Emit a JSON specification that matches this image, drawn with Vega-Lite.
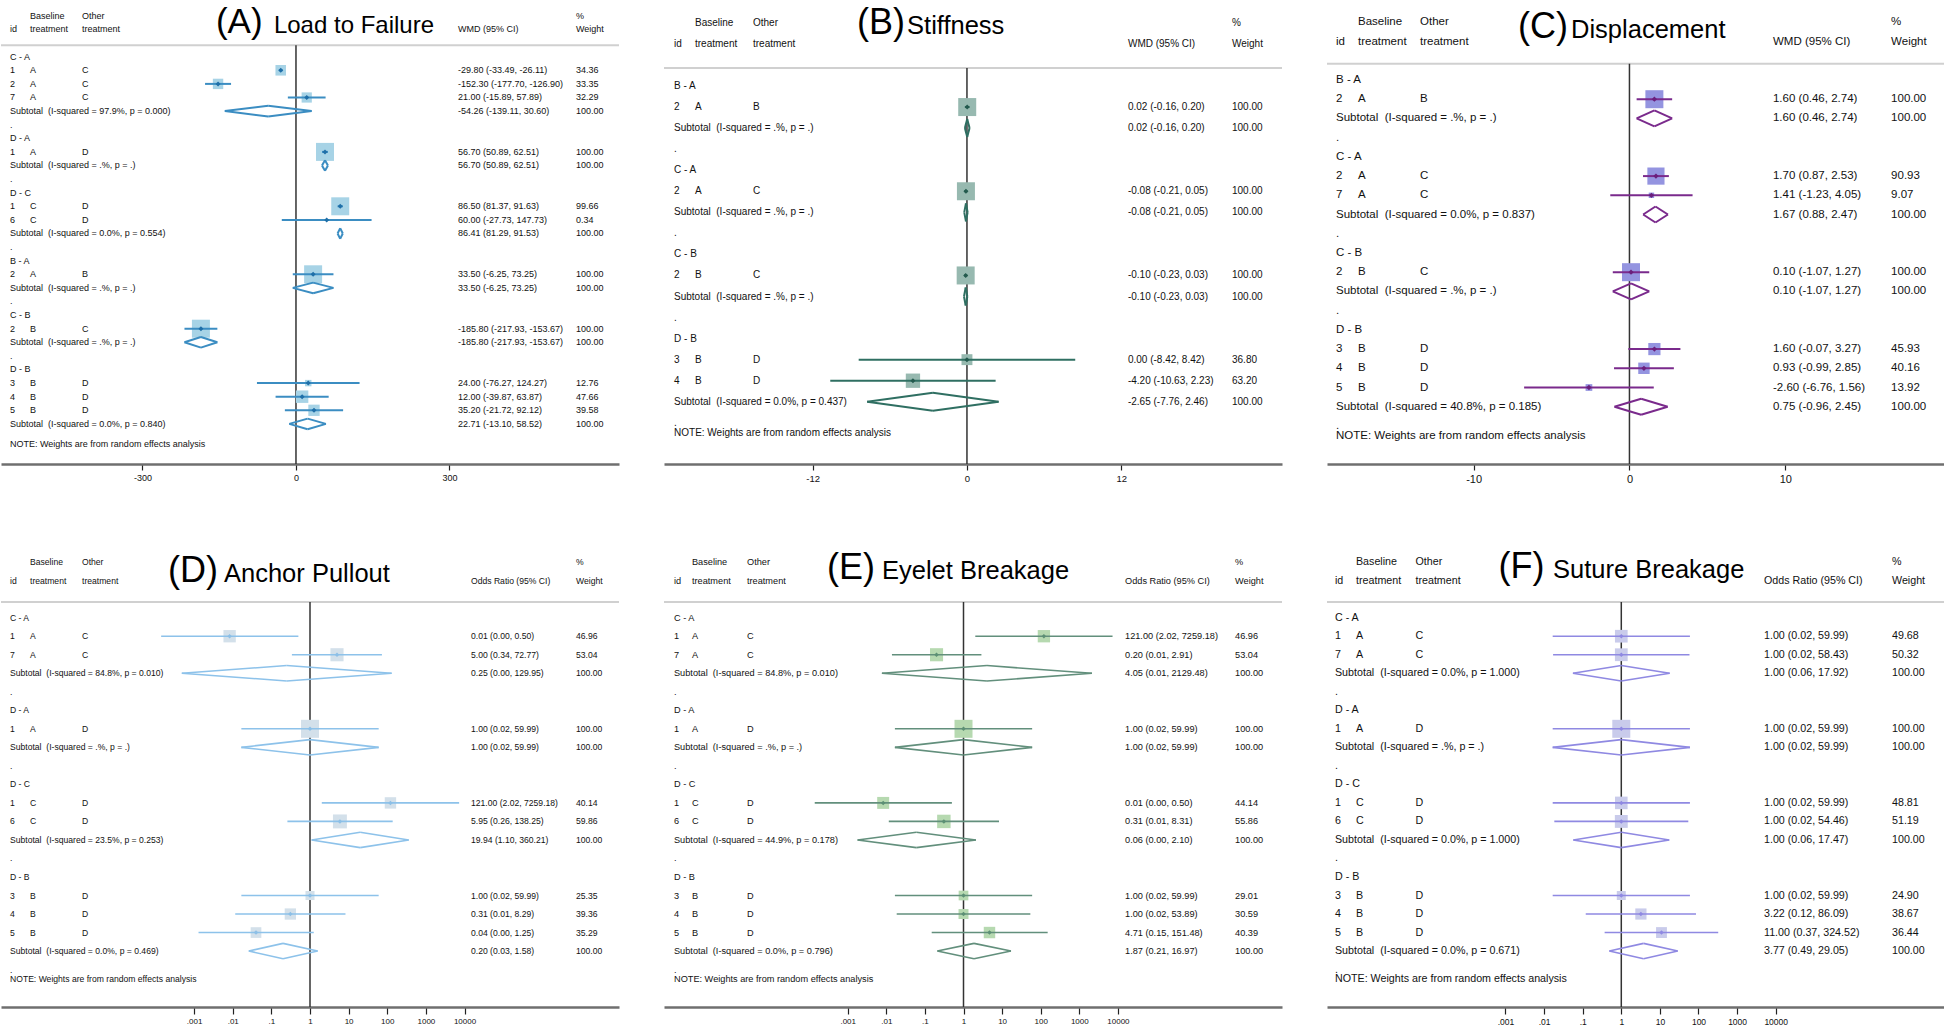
{
"$schema": "https://vega.github.io/schema/vega-lite/v6.json",
"padding": 0,
"background": "white",
"columns": 3,
"align": "each",
"bounds": "flush",
"spacing": {"row": 66, "column": 45},
"config": {"view": {"stroke": null}, "font": "Liberation Sans", "axisX": {"grid": false, "domainColor": "#6f6f6f", "domainWidth": 2.5, "tickColor": "#222222", "tickWidth": 1.2, "labelColor": "#111111", "labelPadding": 3, "labelFlush": false, "labelOverlap": false}},
"datasets": {
"A": [
{"r":-3,"base":"Baseline","other":"Other","wt":"%"},
{"r":-2,"id":"id","base":"treatment","other":"treatment","ci":"WMD (95% CI)","wt":"Weight"},
{"r":0,"t":"g","label":"C - A"},
{"r":1,"t":"s","id":"1","base":"A","other":"C","est":-29.8,"lo":-33.49,"hi":-26.11,"w":34.36,"ci":"-29.80 (-33.49, -26.11)","wt":"34.36"},
{"r":2,"t":"s","id":"2","base":"A","other":"C","est":-152.3,"lo":-177.7,"hi":-126.9,"w":33.35,"ci":"-152.30 (-177.70, -126.90)","wt":"33.35"},
{"r":3,"t":"s","id":"7","base":"A","other":"C","est":21,"lo":-15.89,"hi":57.89,"w":32.29,"ci":"21.00 (-15.89, 57.89)","wt":"32.29"},
{"r":4,"t":"sub","label":"Subtotal\u00a0 (I-squared = 97.9%, p = 0.000)","est":-54.26,"lo":-139.11,"hi":30.6,"ci":"-54.26 (-139.11, 30.60)","wt":"100.00"},
{"r":5,"t":"dot","label":"."},
{"r":6,"t":"g","label":"D - A"},
{"r":7,"t":"s","id":"1","base":"A","other":"D","est":56.7,"lo":50.89,"hi":62.51,"w":100,"ci":"56.70 (50.89, 62.51)","wt":"100.00"},
{"r":8,"t":"sub","label":"Subtotal\u00a0 (I-squared = .%, p = .)","est":56.7,"lo":50.89,"hi":62.51,"ci":"56.70 (50.89, 62.51)","wt":"100.00"},
{"r":9,"t":"dot","label":"."},
{"r":10,"t":"g","label":"D - C"},
{"r":11,"t":"s","id":"1","base":"C","other":"D","est":86.5,"lo":81.37,"hi":91.63,"w":99.66,"ci":"86.50 (81.37, 91.63)","wt":"99.66"},
{"r":12,"t":"s","id":"6","base":"C","other":"D","est":60,"lo":-27.73,"hi":147.73,"w":0.34,"ci":"60.00 (-27.73, 147.73)","wt":"0.34"},
{"r":13,"t":"sub","label":"Subtotal\u00a0 (I-squared = 0.0%, p = 0.554)","est":86.41,"lo":81.29,"hi":91.53,"ci":"86.41 (81.29, 91.53)","wt":"100.00"},
{"r":14,"t":"dot","label":"."},
{"r":15,"t":"g","label":"B - A"},
{"r":16,"t":"s","id":"2","base":"A","other":"B","est":33.5,"lo":-6.25,"hi":73.25,"w":100,"ci":"33.50 (-6.25, 73.25)","wt":"100.00"},
{"r":17,"t":"sub","label":"Subtotal\u00a0 (I-squared = .%, p = .)","est":33.5,"lo":-6.25,"hi":73.25,"ci":"33.50 (-6.25, 73.25)","wt":"100.00"},
{"r":18,"t":"dot","label":"."},
{"r":19,"t":"g","label":"C - B"},
{"r":20,"t":"s","id":"2","base":"B","other":"C","est":-185.8,"lo":-217.93,"hi":-153.67,"w":100,"ci":"-185.80 (-217.93, -153.67)","wt":"100.00"},
{"r":21,"t":"sub","label":"Subtotal\u00a0 (I-squared = .%, p = .)","est":-185.8,"lo":-217.93,"hi":-153.67,"ci":"-185.80 (-217.93, -153.67)","wt":"100.00"},
{"r":22,"t":"dot","label":"."},
{"r":23,"t":"g","label":"D - B"},
{"r":24,"t":"s","id":"3","base":"B","other":"D","est":24,"lo":-76.27,"hi":124.27,"w":12.76,"ci":"24.00 (-76.27, 124.27)","wt":"12.76"},
{"r":25,"t":"s","id":"4","base":"B","other":"D","est":12,"lo":-39.87,"hi":63.87,"w":47.66,"ci":"12.00 (-39.87, 63.87)","wt":"47.66"},
{"r":26,"t":"s","id":"5","base":"B","other":"D","est":35.2,"lo":-21.72,"hi":92.12,"w":39.58,"ci":"35.20 (-21.72, 92.12)","wt":"39.58"},
{"r":27,"t":"sub","label":"Subtotal\u00a0 (I-squared = 0.0%, p = 0.840)","est":22.71,"lo":-13.1,"hi":58.52,"ci":"22.71 (-13.10, 58.52)","wt":"100.00"}
],
"B": [
{"r":-3,"base":"Baseline","other":"Other","wt":"%"},
{"r":-2,"id":"id","base":"treatment","other":"treatment","ci":"WMD (95% CI)","wt":"Weight"},
{"r":0,"t":"g","label":"B - A"},
{"r":1,"t":"s","id":"2","base":"A","other":"B","est":0.02,"lo":-0.16,"hi":0.2,"w":100,"ci":"0.02 (-0.16, 0.20)","wt":"100.00"},
{"r":2,"t":"sub","label":"Subtotal\u00a0 (I-squared = .%, p = .)","est":0.02,"lo":-0.16,"hi":0.2,"ci":"0.02 (-0.16, 0.20)","wt":"100.00"},
{"r":3,"t":"dot","label":"."},
{"r":4,"t":"g","label":"C - A"},
{"r":5,"t":"s","id":"2","base":"A","other":"C","est":-0.08,"lo":-0.21,"hi":0.05,"w":100,"ci":"-0.08 (-0.21, 0.05)","wt":"100.00"},
{"r":6,"t":"sub","label":"Subtotal\u00a0 (I-squared = .%, p = .)","est":-0.08,"lo":-0.21,"hi":0.05,"ci":"-0.08 (-0.21, 0.05)","wt":"100.00"},
{"r":7,"t":"dot","label":"."},
{"r":8,"t":"g","label":"C - B"},
{"r":9,"t":"s","id":"2","base":"B","other":"C","est":-0.1,"lo":-0.23,"hi":0.03,"w":100,"ci":"-0.10 (-0.23, 0.03)","wt":"100.00"},
{"r":10,"t":"sub","label":"Subtotal\u00a0 (I-squared = .%, p = .)","est":-0.1,"lo":-0.23,"hi":0.03,"ci":"-0.10 (-0.23, 0.03)","wt":"100.00"},
{"r":11,"t":"dot","label":"."},
{"r":12,"t":"g","label":"D - B"},
{"r":13,"t":"s","id":"3","base":"B","other":"D","est":0,"lo":-8.42,"hi":8.42,"w":36.8,"ci":"0.00 (-8.42, 8.42)","wt":"36.80"},
{"r":14,"t":"s","id":"4","base":"B","other":"D","est":-4.2,"lo":-10.63,"hi":2.23,"w":63.2,"ci":"-4.20 (-10.63, 2.23)","wt":"63.20"},
{"r":15,"t":"sub","label":"Subtotal\u00a0 (I-squared = 0.0%, p = 0.437)","est":-2.65,"lo":-7.76,"hi":2.46,"ci":"-2.65 (-7.76, 2.46)","wt":"100.00"},
{"r":16,"t":"dot","label":"."}
],
"C": [
{"r":-3,"base":"Baseline","other":"Other","wt":"%"},
{"r":-2,"id":"id","base":"treatment","other":"treatment","ci":"WMD (95% CI)","wt":"Weight"},
{"r":0,"t":"g","label":"B - A"},
{"r":1,"t":"s","id":"2","base":"A","other":"B","est":1.6,"lo":0.46,"hi":2.74,"w":100,"ci":"1.60 (0.46, 2.74)","wt":"100.00"},
{"r":2,"t":"sub","label":"Subtotal\u00a0 (I-squared = .%, p = .)","est":1.6,"lo":0.46,"hi":2.74,"ci":"1.60 (0.46, 2.74)","wt":"100.00"},
{"r":3,"t":"dot","label":"."},
{"r":4,"t":"g","label":"C - A"},
{"r":5,"t":"s","id":"2","base":"A","other":"C","est":1.7,"lo":0.87,"hi":2.53,"w":90.93,"ci":"1.70 (0.87, 2.53)","wt":"90.93"},
{"r":6,"t":"s","id":"7","base":"A","other":"C","est":1.41,"lo":-1.23,"hi":4.05,"w":9.07,"ci":"1.41 (-1.23, 4.05)","wt":"9.07"},
{"r":7,"t":"sub","label":"Subtotal\u00a0 (I-squared = 0.0%, p = 0.837)","est":1.67,"lo":0.88,"hi":2.47,"ci":"1.67 (0.88, 2.47)","wt":"100.00"},
{"r":8,"t":"dot","label":"."},
{"r":9,"t":"g","label":"C - B"},
{"r":10,"t":"s","id":"2","base":"B","other":"C","est":0.1,"lo":-1.07,"hi":1.27,"w":100,"ci":"0.10 (-1.07, 1.27)","wt":"100.00"},
{"r":11,"t":"sub","label":"Subtotal\u00a0 (I-squared = .%, p = .)","est":0.1,"lo":-1.07,"hi":1.27,"ci":"0.10 (-1.07, 1.27)","wt":"100.00"},
{"r":12,"t":"dot","label":"."},
{"r":13,"t":"g","label":"D - B"},
{"r":14,"t":"s","id":"3","base":"B","other":"D","est":1.6,"lo":-0.07,"hi":3.27,"w":45.93,"ci":"1.60 (-0.07, 3.27)","wt":"45.93"},
{"r":15,"t":"s","id":"4","base":"B","other":"D","est":0.93,"lo":-0.99,"hi":2.85,"w":40.16,"ci":"0.93 (-0.99, 2.85)","wt":"40.16"},
{"r":16,"t":"s","id":"5","base":"B","other":"D","est":-2.6,"lo":-6.76,"hi":1.56,"w":13.92,"ci":"-2.60 (-6.76, 1.56)","wt":"13.92"},
{"r":17,"t":"sub","label":"Subtotal\u00a0 (I-squared = 40.8%, p = 0.185)","est":0.75,"lo":-0.96,"hi":2.45,"ci":"0.75 (-0.96, 2.45)","wt":"100.00"},
{"r":18,"t":"dot","label":"."}
],
"D": [
{"r":-3,"base":"Baseline","other":"Other","wt":"%"},
{"r":-2,"id":"id","base":"treatment","other":"treatment","ci":"Odds Ratio (95% CI)","wt":"Weight"},
{"r":0,"t":"g","label":"C - A"},
{"r":1,"t":"s","id":"1","base":"A","other":"C","est":0.0083,"lo":0.00014,"hi":0.5,"w":46.96,"ci":"0.01 (0.00, 0.50)","wt":"46.96"},
{"r":2,"t":"s","id":"7","base":"A","other":"C","est":5,"lo":0.34,"hi":72.77,"w":53.04,"ci":"5.00 (0.34, 72.77)","wt":"53.04"},
{"r":3,"t":"sub","label":"Subtotal\u00a0 (I-squared = 84.8%, p = 0.010)","est":0.25,"lo":0.00048,"hi":129.95,"ci":"0.25 (0.00, 129.95)","wt":"100.00"},
{"r":4,"t":"dot","label":"."},
{"r":5,"t":"g","label":"D - A"},
{"r":6,"t":"s","id":"1","base":"A","other":"D","est":1,"lo":0.0167,"hi":59.99,"w":100,"ci":"1.00 (0.02, 59.99)","wt":"100.00"},
{"r":7,"t":"sub","label":"Subtotal\u00a0 (I-squared = .%, p = .)","est":1,"lo":0.0167,"hi":59.99,"ci":"1.00 (0.02, 59.99)","wt":"100.00"},
{"r":8,"t":"dot","label":"."},
{"r":9,"t":"g","label":"D - C"},
{"r":10,"t":"s","id":"1","base":"C","other":"D","est":121,"lo":2.02,"hi":7259.18,"w":40.14,"ci":"121.00 (2.02, 7259.18)","wt":"40.14"},
{"r":11,"t":"s","id":"6","base":"C","other":"D","est":5.95,"lo":0.26,"hi":138.25,"w":59.86,"ci":"5.95 (0.26, 138.25)","wt":"59.86"},
{"r":12,"t":"sub","label":"Subtotal\u00a0 (I-squared = 23.5%, p = 0.253)","est":19.94,"lo":1.1,"hi":360.21,"ci":"19.94 (1.10, 360.21)","wt":"100.00"},
{"r":13,"t":"dot","label":"."},
{"r":14,"t":"g","label":"D - B"},
{"r":15,"t":"s","id":"3","base":"B","other":"D","est":1,"lo":0.0167,"hi":59.99,"w":25.35,"ci":"1.00 (0.02, 59.99)","wt":"25.35"},
{"r":16,"t":"s","id":"4","base":"B","other":"D","est":0.31,"lo":0.0116,"hi":8.29,"w":39.36,"ci":"0.31 (0.01, 8.29)","wt":"39.36"},
{"r":17,"t":"s","id":"5","base":"B","other":"D","est":0.04,"lo":0.0013,"hi":1.25,"w":35.29,"ci":"0.04 (0.00, 1.25)","wt":"35.29"},
{"r":18,"t":"sub","label":"Subtotal\u00a0 (I-squared = 0.0%, p = 0.469)","est":0.2,"lo":0.026,"hi":1.58,"ci":"0.20 (0.03, 1.58)","wt":"100.00"},
{"r":19,"t":"dot","label":"."}
],
"E": [
{"r":-3,"base":"Baseline","other":"Other","wt":"%"},
{"r":-2,"id":"id","base":"treatment","other":"treatment","ci":"Odds Ratio (95% CI)","wt":"Weight"},
{"r":0,"t":"g","label":"C - A"},
{"r":1,"t":"s","id":"1","base":"A","other":"C","est":121,"lo":2.02,"hi":7259.18,"w":46.96,"ci":"121.00 (2.02, 7259.18)","wt":"46.96"},
{"r":2,"t":"s","id":"7","base":"A","other":"C","est":0.2,"lo":0.014,"hi":2.91,"w":53.04,"ci":"0.20 (0.01, 2.91)","wt":"53.04"},
{"r":3,"t":"sub","label":"Subtotal\u00a0 (I-squared = 84.8%, p = 0.010)","est":4.05,"lo":0.0077,"hi":2129.48,"ci":"4.05 (0.01, 2129.48)","wt":"100.00"},
{"r":4,"t":"dot","label":"."},
{"r":5,"t":"g","label":"D - A"},
{"r":6,"t":"s","id":"1","base":"A","other":"D","est":1,"lo":0.0167,"hi":59.99,"w":100,"ci":"1.00 (0.02, 59.99)","wt":"100.00"},
{"r":7,"t":"sub","label":"Subtotal\u00a0 (I-squared = .%, p = .)","est":1,"lo":0.0167,"hi":59.99,"ci":"1.00 (0.02, 59.99)","wt":"100.00"},
{"r":8,"t":"dot","label":"."},
{"r":9,"t":"g","label":"D - C"},
{"r":10,"t":"s","id":"1","base":"C","other":"D","est":0.0083,"lo":0.00014,"hi":0.5,"w":44.14,"ci":"0.01 (0.00, 0.50)","wt":"44.14"},
{"r":11,"t":"s","id":"6","base":"C","other":"D","est":0.31,"lo":0.0116,"hi":8.31,"w":55.86,"ci":"0.31 (0.01, 8.31)","wt":"55.86"},
{"r":12,"t":"sub","label":"Subtotal\u00a0 (I-squared = 44.9%, p = 0.178)","est":0.06,"lo":0.0018,"hi":2.1,"ci":"0.06 (0.00, 2.10)","wt":"100.00"},
{"r":13,"t":"dot","label":"."},
{"r":14,"t":"g","label":"D - B"},
{"r":15,"t":"s","id":"3","base":"B","other":"D","est":1,"lo":0.0167,"hi":59.99,"w":29.01,"ci":"1.00 (0.02, 59.99)","wt":"29.01"},
{"r":16,"t":"s","id":"4","base":"B","other":"D","est":1,"lo":0.0186,"hi":53.89,"w":30.59,"ci":"1.00 (0.02, 53.89)","wt":"30.59"},
{"r":17,"t":"s","id":"5","base":"B","other":"D","est":4.71,"lo":0.15,"hi":151.48,"w":40.39,"ci":"4.71 (0.15, 151.48)","wt":"40.39"},
{"r":18,"t":"sub","label":"Subtotal\u00a0 (I-squared = 0.0%, p = 0.796)","est":1.87,"lo":0.21,"hi":16.97,"ci":"1.87 (0.21, 16.97)","wt":"100.00"},
{"r":19,"t":"dot","label":"."}
],
"F": [
{"r":-3,"base":"Baseline","other":"Other","wt":"%"},
{"r":-2,"id":"id","base":"treatment","other":"treatment","ci":"Odds Ratio (95% CI)","wt":"Weight"},
{"r":0,"t":"g","label":"C - A"},
{"r":1,"t":"s","id":"1","base":"A","other":"C","est":1,"lo":0.0167,"hi":59.99,"w":49.68,"ci":"1.00 (0.02, 59.99)","wt":"49.68"},
{"r":2,"t":"s","id":"7","base":"A","other":"C","est":1,"lo":0.0171,"hi":58.43,"w":50.32,"ci":"1.00 (0.02, 58.43)","wt":"50.32"},
{"r":3,"t":"sub","label":"Subtotal\u00a0 (I-squared = 0.0%, p = 1.000)","est":1,"lo":0.0558,"hi":17.92,"ci":"1.00 (0.06, 17.92)","wt":"100.00"},
{"r":4,"t":"dot","label":"."},
{"r":5,"t":"g","label":"D - A"},
{"r":6,"t":"s","id":"1","base":"A","other":"D","est":1,"lo":0.0167,"hi":59.99,"w":100,"ci":"1.00 (0.02, 59.99)","wt":"100.00"},
{"r":7,"t":"sub","label":"Subtotal\u00a0 (I-squared = .%, p = .)","est":1,"lo":0.0167,"hi":59.99,"ci":"1.00 (0.02, 59.99)","wt":"100.00"},
{"r":8,"t":"dot","label":"."},
{"r":9,"t":"g","label":"D - C"},
{"r":10,"t":"s","id":"1","base":"C","other":"D","est":1,"lo":0.0167,"hi":59.99,"w":48.81,"ci":"1.00 (0.02, 59.99)","wt":"48.81"},
{"r":11,"t":"s","id":"6","base":"C","other":"D","est":1,"lo":0.0184,"hi":54.46,"w":51.19,"ci":"1.00 (0.02, 54.46)","wt":"51.19"},
{"r":12,"t":"sub","label":"Subtotal\u00a0 (I-squared = 0.0%, p = 1.000)","est":1,"lo":0.0572,"hi":17.47,"ci":"1.00 (0.06, 17.47)","wt":"100.00"},
{"r":13,"t":"dot","label":"."},
{"r":14,"t":"g","label":"D - B"},
{"r":15,"t":"s","id":"3","base":"B","other":"D","est":1,"lo":0.0167,"hi":59.99,"w":24.9,"ci":"1.00 (0.02, 59.99)","wt":"24.90"},
{"r":16,"t":"s","id":"4","base":"B","other":"D","est":3.22,"lo":0.12,"hi":86.09,"w":38.67,"ci":"3.22 (0.12, 86.09)","wt":"38.67"},
{"r":17,"t":"s","id":"5","base":"B","other":"D","est":11,"lo":0.37,"hi":324.52,"w":36.44,"ci":"11.00 (0.37, 324.52)","wt":"36.44"},
{"r":18,"t":"sub","label":"Subtotal\u00a0 (I-squared = 0.0%, p = 0.671)","est":3.77,"lo":0.49,"hi":29.05,"ci":"3.77 (0.49, 29.05)","wt":"100.00"},
{"r":19,"t":"dot","label":"."}
]
},
"concat": [
{"width":618,"height":464,"layer":[
{"data":{"values":[{"k":1}]},"mark":{"type":"rule","color":"#d0d0d0","strokeWidth":2},"encoding":{"y":{"datum":-0.85,"type":"quantitative","scale":{"domain":[-4.169,29.949],"reverse":true,"nice":false,"zero":false},"axis":null}}},
{"data":{"values":[{"k":1}]},"mark":{"type":"rule","color":"#333333","strokeWidth":1.5},"encoding":{"x":{"datum":0,"type":"quantitative","title":null,"scale":{"domain":[-576.5,631.3],"nice":false,"zero":false},"axis":{"values":[-300,0,300],"labelExpr":"'' + datum.value","labelFontSize":9,"tickSize":6}},"y":{"datum":-0.85},"y2":{"datum":29.949}}},
{"data":{"name":"A"},"transform":[{"filter":"datum.t == 's'"}],"mark":{"type":"square","filled":true,"color":"#a7d3e6","opacity":1},"encoding":{"y":{"field":"r","type":"quantitative"},"x":{"field":"est","type":"quantitative","title":null},"size":{"field":"w","type":"quantitative","scale":{"domain":[0,100],"range":[0,324]},"legend":null}}},
{"data":{"name":"A"},"transform":[{"filter":"datum.t == 's'"}],"mark":{"type":"rule","color":"#3b8dc2","strokeWidth":2},"encoding":{"y":{"field":"r","type":"quantitative"},"x":{"field":"lo","type":"quantitative","title":null},"x2":{"field":"hi"}}},
{"data":{"name":"A"},"transform":[{"filter":"datum.t == 's'"}],"mark":{"type":"point","shape":"diamond","filled":true,"color":"#1f6fa8","size":25,"opacity":1},"encoding":{"y":{"field":"r","type":"quantitative"},"x":{"field":"est","type":"quantitative","title":null}}},
{"data":{"name":"A"},"transform":[{"filter":"datum.t == 'sub'"}],"mark":{"type":"rule","color":"#3b8dc2","strokeWidth":2,"y2Offset":-5.3},"encoding":{"y":{"field":"r","type":"quantitative"},"x":{"field":"lo","type":"quantitative","title":null},"x2":{"field":"est"},"y2":{"field":"r"}}},
{"data":{"name":"A"},"transform":[{"filter":"datum.t == 'sub'"}],"mark":{"type":"rule","color":"#3b8dc2","strokeWidth":2,"y2Offset":5.3},"encoding":{"y":{"field":"r","type":"quantitative"},"x":{"field":"lo","type":"quantitative","title":null},"x2":{"field":"est"},"y2":{"field":"r"}}},
{"data":{"name":"A"},"transform":[{"filter":"datum.t == 'sub'"}],"mark":{"type":"rule","color":"#3b8dc2","strokeWidth":2,"yOffset":-5.3},"encoding":{"y":{"field":"r","type":"quantitative"},"x":{"field":"est","type":"quantitative","title":null},"x2":{"field":"hi"},"y2":{"field":"r"}}},
{"data":{"name":"A"},"transform":[{"filter":"datum.t == 'sub'"}],"mark":{"type":"rule","color":"#3b8dc2","strokeWidth":2,"yOffset":5.3},"encoding":{"y":{"field":"r","type":"quantitative"},"x":{"field":"est","type":"quantitative","title":null},"x2":{"field":"hi"},"y2":{"field":"r"}}},
{"data":{"name":"A"},"transform":[{"filter":"isValid(datum.label)"}],"mark":{"type":"text","align":"left","baseline":"middle","fontSize":9,"color":"#111111"},"encoding":{"y":{"field":"r","type":"quantitative"},"x":{"datum":-558.9},"text":{"field":"label"}}},
{"data":{"name":"A"},"transform":[{"filter":"isValid(datum.id)"}],"mark":{"type":"text","align":"left","baseline":"middle","fontSize":9,"color":"#111111"},"encoding":{"y":{"field":"r","type":"quantitative"},"x":{"datum":-558.9},"text":{"field":"id"}}},
{"data":{"name":"A"},"transform":[{"filter":"isValid(datum.base)"}],"mark":{"type":"text","align":"left","baseline":"middle","fontSize":9,"color":"#111111"},"encoding":{"y":{"field":"r","type":"quantitative"},"x":{"datum":-519.8},"text":{"field":"base"}}},
{"data":{"name":"A"},"transform":[{"filter":"isValid(datum.other)"}],"mark":{"type":"text","align":"left","baseline":"middle","fontSize":9,"color":"#111111"},"encoding":{"y":{"field":"r","type":"quantitative"},"x":{"datum":-418.2},"text":{"field":"other"}}},
{"data":{"name":"A"},"transform":[{"filter":"isValid(datum.ci)"}],"mark":{"type":"text","align":"left","baseline":"middle","fontSize":9,"color":"#111111"},"encoding":{"y":{"field":"r","type":"quantitative"},"x":{"datum":316.5},"text":{"field":"ci"}}},
{"data":{"name":"A"},"transform":[{"filter":"isValid(datum.wt)"}],"mark":{"type":"text","align":"left","baseline":"middle","fontSize":9,"color":"#111111"},"encoding":{"y":{"field":"r","type":"quantitative"},"x":{"datum":547.1},"text":{"field":"wt"}}},
{"data":{"values":[{"k":1}]},"mark":{"type":"text","align":"left","baseline":"middle","fontSize":9,"color":"#111111","text":"NOTE: Weights are from random effects analysis"},"encoding":{"x":{"datum":-558.9},"y":{"datum":28.5}}},
{"data":{"values":[{"k":1}]},"mark":{"type":"text","align":"left","baseline":"alphabetic","fontSize":35,"color":"#000000","text":"(A)"},"encoding":{"x":{"datum":-156.4},"y":{"datum":-1.743}}},
{"data":{"values":[{"k":1}]},"mark":{"type":"text","align":"left","baseline":"alphabetic","fontSize":24,"color":"#000000","text":"Load to Failure"},"encoding":{"x":{"datum":-43.1},"y":{"datum":-1.743}}}
]},
{"width":618,"height":464,"layer":[
{"data":{"values":[{"k":1}]},"mark":{"type":"rule","color":"#d0d0d0","strokeWidth":2},"encoding":{"y":{"datum":-0.85,"type":"quantitative","scale":{"domain":[-4.086,17.957],"reverse":true,"nice":false,"zero":false},"axis":null}}},
{"data":{"values":[{"k":1}]},"mark":{"type":"rule","color":"#333333","strokeWidth":1.5},"encoding":{"x":{"datum":0,"type":"quantitative","title":null,"scale":{"domain":[-23.56,24.5],"nice":false,"zero":false},"axis":{"values":[-12,0,12],"labelExpr":"'' + datum.value","labelFontSize":9.5,"tickSize":6}},"y":{"datum":-0.85},"y2":{"datum":17.957}}},
{"data":{"name":"B"},"transform":[{"filter":"datum.t == 's'"}],"mark":{"type":"square","filled":true,"color":"#97b9b0","opacity":1},"encoding":{"y":{"field":"r","type":"quantitative"},"x":{"field":"est","type":"quantitative","title":null},"size":{"field":"w","type":"quantitative","scale":{"domain":[0,100],"range":[0,246]},"legend":null}}},
{"data":{"name":"B"},"transform":[{"filter":"datum.t == 's'"}],"mark":{"type":"rule","color":"#2f6f62","strokeWidth":2},"encoding":{"y":{"field":"r","type":"quantitative"},"x":{"field":"lo","type":"quantitative","title":null},"x2":{"field":"hi"}}},
{"data":{"name":"B"},"transform":[{"filter":"datum.t == 's'"}],"mark":{"type":"point","shape":"diamond","filled":true,"color":"#245a4e","size":25,"opacity":1},"encoding":{"y":{"field":"r","type":"quantitative"},"x":{"field":"est","type":"quantitative","title":null}}},
{"data":{"name":"B"},"transform":[{"filter":"datum.t == 'sub'"}],"mark":{"type":"rule","color":"#2f6f62","strokeWidth":2,"y2Offset":-9},"encoding":{"y":{"field":"r","type":"quantitative"},"x":{"field":"lo","type":"quantitative","title":null},"x2":{"field":"est"},"y2":{"field":"r"}}},
{"data":{"name":"B"},"transform":[{"filter":"datum.t == 'sub'"}],"mark":{"type":"rule","color":"#2f6f62","strokeWidth":2,"y2Offset":9},"encoding":{"y":{"field":"r","type":"quantitative"},"x":{"field":"lo","type":"quantitative","title":null},"x2":{"field":"est"},"y2":{"field":"r"}}},
{"data":{"name":"B"},"transform":[{"filter":"datum.t == 'sub'"}],"mark":{"type":"rule","color":"#2f6f62","strokeWidth":2,"yOffset":-9},"encoding":{"y":{"field":"r","type":"quantitative"},"x":{"field":"est","type":"quantitative","title":null},"x2":{"field":"hi"},"y2":{"field":"r"}}},
{"data":{"name":"B"},"transform":[{"filter":"datum.t == 'sub'"}],"mark":{"type":"rule","color":"#2f6f62","strokeWidth":2,"yOffset":9},"encoding":{"y":{"field":"r","type":"quantitative"},"x":{"field":"est","type":"quantitative","title":null},"x2":{"field":"hi"},"y2":{"field":"r"}}},
{"data":{"name":"B"},"transform":[{"filter":"isValid(datum.label)"}],"mark":{"type":"text","align":"left","baseline":"middle","fontSize":10,"color":"#111111"},"encoding":{"y":{"field":"r","type":"quantitative"},"x":{"datum":-22.78},"text":{"field":"label"}}},
{"data":{"name":"B"},"transform":[{"filter":"isValid(datum.id)"}],"mark":{"type":"text","align":"left","baseline":"middle","fontSize":10,"color":"#111111"},"encoding":{"y":{"field":"r","type":"quantitative"},"x":{"datum":-22.78},"text":{"field":"id"}}},
{"data":{"name":"B"},"transform":[{"filter":"isValid(datum.base)"}],"mark":{"type":"text","align":"left","baseline":"middle","fontSize":10,"color":"#111111"},"encoding":{"y":{"field":"r","type":"quantitative"},"x":{"datum":-21.15},"text":{"field":"base"}}},
{"data":{"name":"B"},"transform":[{"filter":"isValid(datum.other)"}],"mark":{"type":"text","align":"left","baseline":"middle","fontSize":10,"color":"#111111"},"encoding":{"y":{"field":"r","type":"quantitative"},"x":{"datum":-16.64},"text":{"field":"other"}}},
{"data":{"name":"B"},"transform":[{"filter":"isValid(datum.ci)"}],"mark":{"type":"text","align":"left","baseline":"middle","fontSize":10,"color":"#111111"},"encoding":{"y":{"field":"r","type":"quantitative"},"x":{"datum":12.52},"text":{"field":"ci"}}},
{"data":{"name":"B"},"transform":[{"filter":"isValid(datum.wt)"}],"mark":{"type":"text","align":"left","baseline":"middle","fontSize":10,"color":"#111111"},"encoding":{"y":{"field":"r","type":"quantitative"},"x":{"datum":20.61},"text":{"field":"wt"}}},
{"data":{"values":[{"k":1}]},"mark":{"type":"text","align":"left","baseline":"middle","fontSize":10,"color":"#111111","text":"NOTE: Weights are from random effects analysis"},"encoding":{"x":{"datum":-22.78},"y":{"datum":16.5}}},
{"data":{"values":[{"k":1}]},"mark":{"type":"text","align":"left","baseline":"alphabetic","fontSize":36,"color":"#000000","text":"(B)"},"encoding":{"x":{"datum":-8.55},"y":{"datum":-2.452}}},
{"data":{"values":[{"k":1}]},"mark":{"type":"text","align":"left","baseline":"alphabetic","fontSize":25.5,"color":"#000000","text":"Stiffness"},"encoding":{"x":{"datum":-4.66},"y":{"datum":-2.452}}}
]},
{"width":618,"height":464,"layer":[
{"data":{"values":[{"k":1}]},"mark":{"type":"rule","color":"#d0d0d0","strokeWidth":2},"encoding":{"y":{"datum":-0.85,"type":"quantitative","scale":{"domain":[-4.162,19.98],"reverse":true,"nice":false,"zero":false},"axis":null}}},
{"data":{"values":[{"k":1}]},"mark":{"type":"rule","color":"#333333","strokeWidth":1.5},"encoding":{"x":{"datum":0,"type":"quantitative","title":null,"scale":{"domain":[-19.41,20.25],"nice":false,"zero":false},"axis":{"values":[-10,0,10],"labelExpr":"'' + datum.value","labelFontSize":11,"tickSize":6}},"y":{"datum":-0.85},"y2":{"datum":19.98}}},
{"data":{"name":"C"},"transform":[{"filter":"datum.t == 's'"}],"mark":{"type":"square","filled":true,"color":"#9494e0","opacity":1},"encoding":{"y":{"field":"r","type":"quantitative"},"x":{"field":"est","type":"quantitative","title":null},"size":{"field":"w","type":"quantitative","scale":{"domain":[0,100],"range":[0,289]},"legend":null}}},
{"data":{"name":"C"},"transform":[{"filter":"datum.t == 's'"}],"mark":{"type":"rule","color":"#7a2a8c","strokeWidth":2},"encoding":{"y":{"field":"r","type":"quantitative"},"x":{"field":"lo","type":"quantitative","title":null},"x2":{"field":"hi"}}},
{"data":{"name":"C"},"transform":[{"filter":"datum.t == 's'"}],"mark":{"type":"point","shape":"diamond","filled":true,"color":"#6a1f7c","size":28,"opacity":1},"encoding":{"y":{"field":"r","type":"quantitative"},"x":{"field":"est","type":"quantitative","title":null}}},
{"data":{"name":"C"},"transform":[{"filter":"datum.t == 'sub'"}],"mark":{"type":"rule","color":"#7a2a8c","strokeWidth":2,"y2Offset":-8},"encoding":{"y":{"field":"r","type":"quantitative"},"x":{"field":"lo","type":"quantitative","title":null},"x2":{"field":"est"},"y2":{"field":"r"}}},
{"data":{"name":"C"},"transform":[{"filter":"datum.t == 'sub'"}],"mark":{"type":"rule","color":"#7a2a8c","strokeWidth":2,"y2Offset":8},"encoding":{"y":{"field":"r","type":"quantitative"},"x":{"field":"lo","type":"quantitative","title":null},"x2":{"field":"est"},"y2":{"field":"r"}}},
{"data":{"name":"C"},"transform":[{"filter":"datum.t == 'sub'"}],"mark":{"type":"rule","color":"#7a2a8c","strokeWidth":2,"yOffset":-8},"encoding":{"y":{"field":"r","type":"quantitative"},"x":{"field":"est","type":"quantitative","title":null},"x2":{"field":"hi"},"y2":{"field":"r"}}},
{"data":{"name":"C"},"transform":[{"filter":"datum.t == 'sub'"}],"mark":{"type":"rule","color":"#7a2a8c","strokeWidth":2,"yOffset":8},"encoding":{"y":{"field":"r","type":"quantitative"},"x":{"field":"est","type":"quantitative","title":null},"x2":{"field":"hi"},"y2":{"field":"r"}}},
{"data":{"name":"C"},"transform":[{"filter":"isValid(datum.label)"}],"mark":{"type":"text","align":"left","baseline":"middle","fontSize":11.5,"color":"#111111"},"encoding":{"y":{"field":"r","type":"quantitative"},"x":{"datum":-18.83},"text":{"field":"label"}}},
{"data":{"name":"C"},"transform":[{"filter":"isValid(datum.id)"}],"mark":{"type":"text","align":"left","baseline":"middle","fontSize":11.5,"color":"#111111"},"encoding":{"y":{"field":"r","type":"quantitative"},"x":{"datum":-18.83},"text":{"field":"id"}}},
{"data":{"name":"C"},"transform":[{"filter":"isValid(datum.base)"}],"mark":{"type":"text","align":"left","baseline":"middle","fontSize":11.5,"color":"#111111"},"encoding":{"y":{"field":"r","type":"quantitative"},"x":{"datum":-17.42},"text":{"field":"base"}}},
{"data":{"name":"C"},"transform":[{"filter":"isValid(datum.other)"}],"mark":{"type":"text","align":"left","baseline":"middle","fontSize":11.5,"color":"#111111"},"encoding":{"y":{"field":"r","type":"quantitative"},"x":{"datum":-13.44},"text":{"field":"other"}}},
{"data":{"name":"C"},"transform":[{"filter":"isValid(datum.ci)"}],"mark":{"type":"text","align":"left","baseline":"middle","fontSize":11.5,"color":"#111111"},"encoding":{"y":{"field":"r","type":"quantitative"},"x":{"datum":9.21},"text":{"field":"ci"}}},
{"data":{"name":"C"},"transform":[{"filter":"isValid(datum.wt)"}],"mark":{"type":"text","align":"left","baseline":"middle","fontSize":11.5,"color":"#111111"},"encoding":{"y":{"field":"r","type":"quantitative"},"x":{"datum":16.79},"text":{"field":"wt"}}},
{"data":{"values":[{"k":1}]},"mark":{"type":"text","align":"left","baseline":"middle","fontSize":11.5,"color":"#111111","text":"NOTE: Weights are from random effects analysis"},"encoding":{"x":{"datum":-18.83},"y":{"datum":18.5}}},
{"data":{"values":[{"k":1}]},"mark":{"type":"text","align":"left","baseline":"alphabetic","fontSize":36,"color":"#000000","text":"(C)"},"encoding":{"x":{"datum":-7.15},"y":{"datum":-2.18}}},
{"data":{"values":[{"k":1}]},"mark":{"type":"text","align":"left","baseline":"alphabetic","fontSize":25.5,"color":"#000000","text":"Displacement"},"encoding":{"x":{"datum":-3.75},"y":{"datum":-2.18}}}
]},
{"width":618,"height":477,"layer":[
{"data":{"values":[{"k":1}]},"mark":{"type":"rule","color":"#d0d0d0","strokeWidth":2},"encoding":{"y":{"datum":-0.85,"type":"quantitative","scale":{"domain":[-4.735,21.02],"reverse":true,"nice":false,"zero":false},"axis":null}}},
{"data":{"values":[{"k":1}]},"mark":{"type":"rule","color":"#333333","strokeWidth":1.5},"encoding":{"x":{"datum":1,"type":"quantitative","title":null,"scale":{"type":"log","domain":[1e-8,1e8],"nice":false},"axis":{"values":[0.001,0.01,0.1,1,10,100,1000,10000],"labelExpr":"datum.value < 1 ? replace(format(datum.value, '~g'), '0.', '.') : format(datum.value, 'd')","labelFontSize":8,"tickSize":7}},"y":{"datum":-0.85},"y2":{"datum":21.02}}},
{"data":{"name":"D"},"transform":[{"filter":"datum.t == 's'"}],"mark":{"type":"square","filled":true,"color":"#d3e0ea","opacity":1},"encoding":{"y":{"field":"r","type":"quantitative"},"x":{"field":"est","type":"quantitative","title":null},"size":{"field":"w","type":"quantitative","scale":{"domain":[0,100],"range":[0,182]},"legend":null}}},
{"data":{"name":"D"},"transform":[{"filter":"datum.t == 's'"}],"mark":{"type":"rule","color":"#8dc2ea","strokeWidth":1.6},"encoding":{"y":{"field":"r","type":"quantitative"},"x":{"field":"lo","type":"quantitative","title":null},"x2":{"field":"hi"}}},
{"data":{"name":"D"},"transform":[{"filter":"datum.t == 's'"}],"mark":{"type":"point","shape":"diamond","filled":true,"color":"#8dbfe6","size":20,"opacity":1},"encoding":{"y":{"field":"r","type":"quantitative"},"x":{"field":"est","type":"quantitative","title":null}}},
{"data":{"name":"D"},"transform":[{"filter":"datum.t == 'sub'"}],"mark":{"type":"rule","color":"#8dc2ea","strokeWidth":1.6,"y2Offset":-7.7},"encoding":{"y":{"field":"r","type":"quantitative"},"x":{"field":"lo","type":"quantitative","title":null},"x2":{"field":"est"},"y2":{"field":"r"}}},
{"data":{"name":"D"},"transform":[{"filter":"datum.t == 'sub'"}],"mark":{"type":"rule","color":"#8dc2ea","strokeWidth":1.6,"y2Offset":7.7},"encoding":{"y":{"field":"r","type":"quantitative"},"x":{"field":"lo","type":"quantitative","title":null},"x2":{"field":"est"},"y2":{"field":"r"}}},
{"data":{"name":"D"},"transform":[{"filter":"datum.t == 'sub'"}],"mark":{"type":"rule","color":"#8dc2ea","strokeWidth":1.6,"yOffset":-7.7},"encoding":{"y":{"field":"r","type":"quantitative"},"x":{"field":"est","type":"quantitative","title":null},"x2":{"field":"hi"},"y2":{"field":"r"}}},
{"data":{"name":"D"},"transform":[{"filter":"datum.t == 'sub'"}],"mark":{"type":"rule","color":"#8dc2ea","strokeWidth":1.6,"yOffset":7.7},"encoding":{"y":{"field":"r","type":"quantitative"},"x":{"field":"est","type":"quantitative","title":null},"x2":{"field":"hi"},"y2":{"field":"r"}}},
{"data":{"name":"D"},"transform":[{"filter":"isValid(datum.label)"}],"mark":{"type":"text","align":"left","baseline":"middle","fontSize":8.6,"color":"#111111"},"encoding":{"y":{"field":"r","type":"quantitative"},"x":{"datum":1.71e-8},"text":{"field":"label"}}},
{"data":{"name":"D"},"transform":[{"filter":"isValid(datum.id)"}],"mark":{"type":"text","align":"left","baseline":"middle","fontSize":8.6,"color":"#111111"},"encoding":{"y":{"field":"r","type":"quantitative"},"x":{"datum":1.71e-8},"text":{"field":"id"}}},
{"data":{"name":"D"},"transform":[{"filter":"isValid(datum.base)"}],"mark":{"type":"text","align":"left","baseline":"middle","fontSize":8.6,"color":"#111111"},"encoding":{"y":{"field":"r","type":"quantitative"},"x":{"datum":5.636e-8},"text":{"field":"base"}}},
{"data":{"name":"D"},"transform":[{"filter":"isValid(datum.other)"}],"mark":{"type":"text","align":"left","baseline":"middle","fontSize":8.6,"color":"#111111"},"encoding":{"y":{"field":"r","type":"quantitative"},"x":{"datum":1.25e-6},"text":{"field":"other"}}},
{"data":{"name":"D"},"transform":[{"filter":"isValid(datum.ci)"}],"mark":{"type":"text","align":"left","baseline":"middle","fontSize":8.6,"color":"#111111"},"encoding":{"y":{"field":"r","type":"quantitative"},"x":{"datum":14720},"text":{"field":"ci"}}},
{"data":{"name":"D"},"transform":[{"filter":"isValid(datum.wt)"}],"mark":{"type":"text","align":"left","baseline":"middle","fontSize":8.6,"color":"#111111"},"encoding":{"y":{"field":"r","type":"quantitative"},"x":{"datum":7709000},"text":{"field":"wt"}}},
{"data":{"values":[{"k":1}]},"mark":{"type":"text","align":"left","baseline":"middle","fontSize":8.6,"color":"#111111","text":"NOTE: Weights are from random effects analysis"},"encoding":{"x":{"datum":1.71e-8},"y":{"datum":19.5}}},
{"data":{"values":[{"k":1}]},"mark":{"type":"text","align":"left","baseline":"alphabetic","fontSize":36,"color":"#000000","text":"(D)"},"encoding":{"x":{"datum":2.109e-4},"y":{"datum":-1.95}}},
{"data":{"values":[{"k":1}]},"mark":{"type":"text","align":"left","baseline":"alphabetic","fontSize":25.5,"color":"#000000","text":"Anchor Pullout"},"encoding":{"x":{"datum":5.935e-3},"y":{"datum":-1.95}}}
]},
{"width":618,"height":477,"layer":[
{"data":{"values":[{"k":1}]},"mark":{"type":"rule","color":"#d0d0d0","strokeWidth":2},"encoding":{"y":{"datum":-0.85,"type":"quantitative","scale":{"domain":[-4.735,21.02],"reverse":true,"nice":false,"zero":false},"axis":null}}},
{"data":{"values":[{"k":1}]},"mark":{"type":"rule","color":"#333333","strokeWidth":1.5},"encoding":{"x":{"datum":1,"type":"quantitative","title":null,"scale":{"type":"log","domain":[1.742e-8,1.782e8],"nice":false},"axis":{"values":[0.001,0.01,0.1,1,10,100,1000,10000],"labelExpr":"datum.value < 1 ? replace(format(datum.value, '~g'), '0.', '.') : format(datum.value, 'd')","labelFontSize":8,"tickSize":7}},"y":{"datum":-0.85},"y2":{"datum":21.02}}},
{"data":{"name":"E"},"transform":[{"filter":"datum.t == 's'"}],"mark":{"type":"square","filled":true,"color":"#b6d9b0","opacity":1},"encoding":{"y":{"field":"r","type":"quantitative"},"x":{"field":"est","type":"quantitative","title":null},"size":{"field":"w","type":"quantitative","scale":{"domain":[0,100],"range":[0,182]},"legend":null}}},
{"data":{"name":"E"},"transform":[{"filter":"datum.t == 's'"}],"mark":{"type":"rule","color":"#628f7c","strokeWidth":1.6},"encoding":{"y":{"field":"r","type":"quantitative"},"x":{"field":"lo","type":"quantitative","title":null},"x2":{"field":"hi"}}},
{"data":{"name":"E"},"transform":[{"filter":"datum.t == 's'"}],"mark":{"type":"point","shape":"diamond","filled":true,"color":"#5c9074","size":20,"opacity":1},"encoding":{"y":{"field":"r","type":"quantitative"},"x":{"field":"est","type":"quantitative","title":null}}},
{"data":{"name":"E"},"transform":[{"filter":"datum.t == 'sub'"}],"mark":{"type":"rule","color":"#628f7c","strokeWidth":1.6,"y2Offset":-7.7},"encoding":{"y":{"field":"r","type":"quantitative"},"x":{"field":"lo","type":"quantitative","title":null},"x2":{"field":"est"},"y2":{"field":"r"}}},
{"data":{"name":"E"},"transform":[{"filter":"datum.t == 'sub'"}],"mark":{"type":"rule","color":"#628f7c","strokeWidth":1.6,"y2Offset":7.7},"encoding":{"y":{"field":"r","type":"quantitative"},"x":{"field":"lo","type":"quantitative","title":null},"x2":{"field":"est"},"y2":{"field":"r"}}},
{"data":{"name":"E"},"transform":[{"filter":"datum.t == 'sub'"}],"mark":{"type":"rule","color":"#628f7c","strokeWidth":1.6,"yOffset":-7.7},"encoding":{"y":{"field":"r","type":"quantitative"},"x":{"field":"est","type":"quantitative","title":null},"x2":{"field":"hi"},"y2":{"field":"r"}}},
{"data":{"name":"E"},"transform":[{"filter":"datum.t == 'sub'"}],"mark":{"type":"rule","color":"#628f7c","strokeWidth":1.6,"yOffset":7.7},"encoding":{"y":{"field":"r","type":"quantitative"},"x":{"field":"est","type":"quantitative","title":null},"x2":{"field":"hi"},"y2":{"field":"r"}}},
{"data":{"name":"E"},"transform":[{"filter":"isValid(datum.label)"}],"mark":{"type":"text","align":"left","baseline":"middle","fontSize":9.2,"color":"#111111"},"encoding":{"y":{"field":"r","type":"quantitative"},"x":{"datum":3.162e-8},"text":{"field":"label"}}},
{"data":{"name":"E"},"transform":[{"filter":"isValid(datum.id)"}],"mark":{"type":"text","align":"left","baseline":"middle","fontSize":9.2,"color":"#111111"},"encoding":{"y":{"field":"r","type":"quantitative"},"x":{"datum":3.162e-8},"text":{"field":"id"}}},
{"data":{"name":"E"},"transform":[{"filter":"isValid(datum.base)"}],"mark":{"type":"text","align":"left","baseline":"middle","fontSize":9.2,"color":"#111111"},"encoding":{"y":{"field":"r","type":"quantitative"},"x":{"datum":9.247e-8},"text":{"field":"base"}}},
{"data":{"name":"E"},"transform":[{"filter":"isValid(datum.other)"}],"mark":{"type":"text","align":"left","baseline":"middle","fontSize":9.2,"color":"#111111"},"encoding":{"y":{"field":"r","type":"quantitative"},"x":{"datum":2.46e-6},"text":{"field":"other"}}},
{"data":{"name":"E"},"transform":[{"filter":"isValid(datum.ci)"}],"mark":{"type":"text","align":"left","baseline":"middle","fontSize":9.2,"color":"#111111"},"encoding":{"y":{"field":"r","type":"quantitative"},"x":{"datum":15280},"text":{"field":"ci"}}},
{"data":{"name":"E"},"transform":[{"filter":"isValid(datum.wt)"}],"mark":{"type":"text","align":"left","baseline":"middle","fontSize":9.2,"color":"#111111"},"encoding":{"y":{"field":"r","type":"quantitative"},"x":{"datum":10810000},"text":{"field":"wt"}}},
{"data":{"values":[{"k":1}]},"mark":{"type":"text","align":"left","baseline":"middle","fontSize":9.2,"color":"#111111","text":"NOTE: Weights are from random effects analysis"},"encoding":{"x":{"datum":3.162e-8},"y":{"datum":19.5}}},
{"data":{"values":[{"k":1}]},"mark":{"type":"text","align":"left","baseline":"alphabetic","fontSize":36,"color":"#000000","text":"(E)"},"encoding":{"x":{"datum":2.911e-4},"y":{"datum":-2.07}}},
{"data":{"values":[{"k":1}]},"mark":{"type":"text","align":"left","baseline":"alphabetic","fontSize":25.5,"color":"#000000","text":"Eyelet Breakage"},"encoding":{"x":{"datum":7.745e-3},"y":{"datum":-2.07}}}
]},
{"width":618,"height":477,"layer":[
{"data":{"values":[{"k":1}]},"mark":{"type":"rule","color":"#d0d0d0","strokeWidth":2},"encoding":{"y":{"datum":-0.85,"type":"quantitative","scale":{"domain":[-4.735,21.02],"reverse":true,"nice":false,"zero":false},"axis":null}}},
{"data":{"values":[{"k":1}]},"mark":{"type":"rule","color":"#333333","strokeWidth":1.5},"encoding":{"x":{"datum":1,"type":"quantitative","title":null,"scale":{"type":"log","domain":[2.377e-8,2.432e8],"nice":false},"axis":{"values":[0.001,0.01,0.1,1,10,100,1000,10000],"labelExpr":"datum.value < 1 ? replace(format(datum.value, '~g'), '0.', '.') : format(datum.value, 'd')","labelFontSize":8.5,"tickSize":7}},"y":{"datum":-0.85},"y2":{"datum":21.02}}},
{"data":{"name":"F"},"transform":[{"filter":"datum.t == 's'"}],"mark":{"type":"square","filled":true,"color":"#c9cbeb","opacity":1},"encoding":{"y":{"field":"r","type":"quantitative"},"x":{"field":"est","type":"quantitative","title":null},"size":{"field":"w","type":"quantitative","scale":{"domain":[0,100],"range":[0,182]},"legend":null}}},
{"data":{"name":"F"},"transform":[{"filter":"datum.t == 's'"}],"mark":{"type":"rule","color":"#8f89e2","strokeWidth":1.6},"encoding":{"y":{"field":"r","type":"quantitative"},"x":{"field":"lo","type":"quantitative","title":null},"x2":{"field":"hi"}}},
{"data":{"name":"F"},"transform":[{"filter":"datum.t == 's'"}],"mark":{"type":"point","shape":"diamond","filled":true,"color":"#8f89e2","size":20,"opacity":1},"encoding":{"y":{"field":"r","type":"quantitative"},"x":{"field":"est","type":"quantitative","title":null}}},
{"data":{"name":"F"},"transform":[{"filter":"datum.t == 'sub'"}],"mark":{"type":"rule","color":"#8f89e2","strokeWidth":1.6,"y2Offset":-7.7},"encoding":{"y":{"field":"r","type":"quantitative"},"x":{"field":"lo","type":"quantitative","title":null},"x2":{"field":"est"},"y2":{"field":"r"}}},
{"data":{"name":"F"},"transform":[{"filter":"datum.t == 'sub'"}],"mark":{"type":"rule","color":"#8f89e2","strokeWidth":1.6,"y2Offset":7.7},"encoding":{"y":{"field":"r","type":"quantitative"},"x":{"field":"lo","type":"quantitative","title":null},"x2":{"field":"est"},"y2":{"field":"r"}}},
{"data":{"name":"F"},"transform":[{"filter":"datum.t == 'sub'"}],"mark":{"type":"rule","color":"#8f89e2","strokeWidth":1.6,"yOffset":-7.7},"encoding":{"y":{"field":"r","type":"quantitative"},"x":{"field":"est","type":"quantitative","title":null},"x2":{"field":"hi"},"y2":{"field":"r"}}},
{"data":{"name":"F"},"transform":[{"filter":"datum.t == 'sub'"}],"mark":{"type":"rule","color":"#8f89e2","strokeWidth":1.6,"yOffset":7.7},"encoding":{"y":{"field":"r","type":"quantitative"},"x":{"field":"est","type":"quantitative","title":null},"x2":{"field":"hi"},"y2":{"field":"r"}}},
{"data":{"name":"F"},"transform":[{"filter":"isValid(datum.label)"}],"mark":{"type":"text","align":"left","baseline":"middle","fontSize":10.7,"color":"#111111"},"encoding":{"y":{"field":"r","type":"quantitative"},"x":{"datum":3.828e-8},"text":{"field":"label"}}},
{"data":{"name":"F"},"transform":[{"filter":"isValid(datum.id)"}],"mark":{"type":"text","align":"left","baseline":"middle","fontSize":10.7,"color":"#111111"},"encoding":{"y":{"field":"r","type":"quantitative"},"x":{"datum":3.828e-8},"text":{"field":"id"}}},
{"data":{"name":"F"},"transform":[{"filter":"isValid(datum.base)"}],"mark":{"type":"text","align":"left","baseline":"middle","fontSize":10.7,"color":"#111111"},"encoding":{"y":{"field":"r","type":"quantitative"},"x":{"datum":1.34e-7},"text":{"field":"base"}}},
{"data":{"name":"F"},"transform":[{"filter":"isValid(datum.other)"}],"mark":{"type":"text","align":"left","baseline":"middle","fontSize":10.7,"color":"#111111"},"encoding":{"y":{"field":"r","type":"quantitative"},"x":{"datum":4.656e-6},"text":{"field":"other"}}},
{"data":{"name":"F"},"transform":[{"filter":"isValid(datum.ci)"}],"mark":{"type":"text","align":"left","baseline":"middle","fontSize":10.7,"color":"#111111"},"encoding":{"y":{"field":"r","type":"quantitative"},"x":{"datum":4977},"text":{"field":"ci"}}},
{"data":{"name":"F"},"transform":[{"filter":"isValid(datum.wt)"}],"mark":{"type":"text","align":"left","baseline":"middle","fontSize":10.7,"color":"#111111"},"encoding":{"y":{"field":"r","type":"quantitative"},"x":{"datum":10300000},"text":{"field":"wt"}}},
{"data":{"values":[{"k":1}]},"mark":{"type":"text","align":"left","baseline":"middle","fontSize":10.7,"color":"#111111","text":"NOTE: Weights are from random effects analysis"},"encoding":{"x":{"datum":3.828e-8},"y":{"datum":19.5}}},
{"data":{"values":[{"k":1}]},"mark":{"type":"text","align":"left","baseline":"alphabetic","fontSize":36,"color":"#000000","text":"(F)"},"encoding":{"x":{"datum":6.592e-4},"y":{"datum":-2.13}}},
{"data":{"values":[{"k":1}]},"mark":{"type":"text","align":"left","baseline":"alphabetic","fontSize":25.5,"color":"#000000","text":"Suture Breakage"},"encoding":{"x":{"datum":0.01702},"y":{"datum":-2.13}}}
]}
]
}
